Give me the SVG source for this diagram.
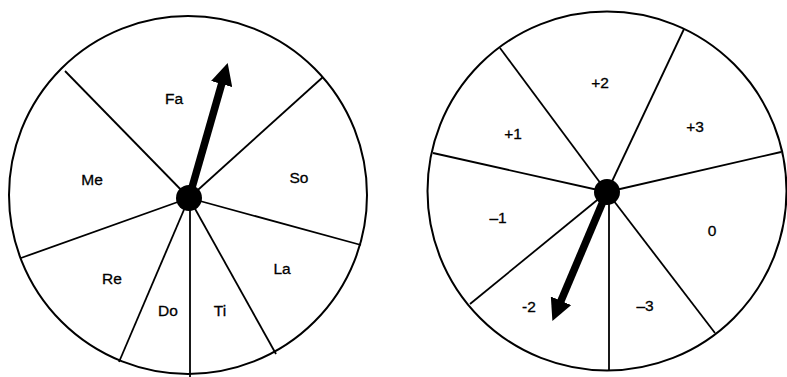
<svg xmlns="http://www.w3.org/2000/svg" width="787" height="377" viewBox="0 0 787 377">
<style>
.rim{fill:#fff;stroke:#000;stroke-width:2}
.spoke{stroke:#000;stroke-width:1.8;fill:none}
.hub{fill:#000}
.ptr{stroke:#000;stroke-width:7.5;fill:none}
text{font-family:"Liberation Sans",Arial,sans-serif;font-size:15.5px;fill:#000;stroke:#000;stroke-width:0.3;text-anchor:middle;dominant-baseline:central}
</style>
<defs>
<marker id="head" viewBox="0 -11 22 22" refX="1" refY="0" markerWidth="22" markerHeight="22" markerUnits="userSpaceOnUse" orient="auto">
<path d="M0,-11 L22,0 L0,11 z" fill="#000"/>
</marker>
</defs>
<rect width="787" height="377" fill="#fff"/>
<g id="wheel-solfege">
<circle class="rim" cx="188" cy="195" r="179"/>
<g id="spokes-left">
<line class="spoke" x1="189" y1="198" x2="65" y2="71"/>
<line class="spoke" x1="189" y1="198" x2="323" y2="77"/>
<line class="spoke" x1="189" y1="198" x2="361" y2="245"/>
<line class="spoke" x1="189" y1="198" x2="276" y2="354"/>
<line class="spoke" x1="190" y1="198" x2="190" y2="377"/>
<line class="spoke" x1="189" y1="198" x2="119" y2="362"/>
<line class="spoke" x1="189" y1="198" x2="21" y2="258"/>
</g>
<g id="labels-left">
<text x="174" y="98">Fa</text>
<text x="92" y="179">Me</text>
<text x="299" y="177">So</text>
<text x="282" y="268">La</text>
<text x="220" y="310">Ti</text>
<text x="168" y="310">Do</text>
<text x="112" y="278">Re</text>
</g>
<line id="pointer-left" class="ptr" x1="189" y1="198" x2="221.9" y2="83.1" marker-end="url(#head)"/>
<circle class="hub" cx="189" cy="198" r="13"/>
</g>
<g id="wheel-numbers">
<circle class="rim" cx="607" cy="191" r="179.5"/>
<g id="spokes-right">
<line class="spoke" x1="607" y1="192" x2="500" y2="48"/>
<line class="spoke" x1="607" y1="192" x2="684" y2="29"/>
<line class="spoke" x1="607" y1="192" x2="781" y2="152"/>
<line class="spoke" x1="607" y1="192" x2="715" y2="333"/>
<line class="spoke" x1="609" y1="192" x2="609" y2="370"/>
<line class="spoke" x1="607" y1="192" x2="470" y2="304"/>
<line class="spoke" x1="607" y1="192" x2="433" y2="153"/>
</g>
<g id="labels-right">
<text x="600" y="82">+2</text>
<text x="695" y="126">+3</text>
<text x="513" y="133">+1</text>
<text x="498" y="217">–1</text>
<text x="712" y="230">0</text>
<text x="529" y="306">-2</text>
<text x="645" y="305">–3</text>
</g>
<line id="pointer-right" class="ptr" x1="607" y1="192" x2="560.6" y2="301.7" marker-end="url(#head)"/>
<circle class="hub" cx="607" cy="192" r="13"/>
</g>
</svg>
